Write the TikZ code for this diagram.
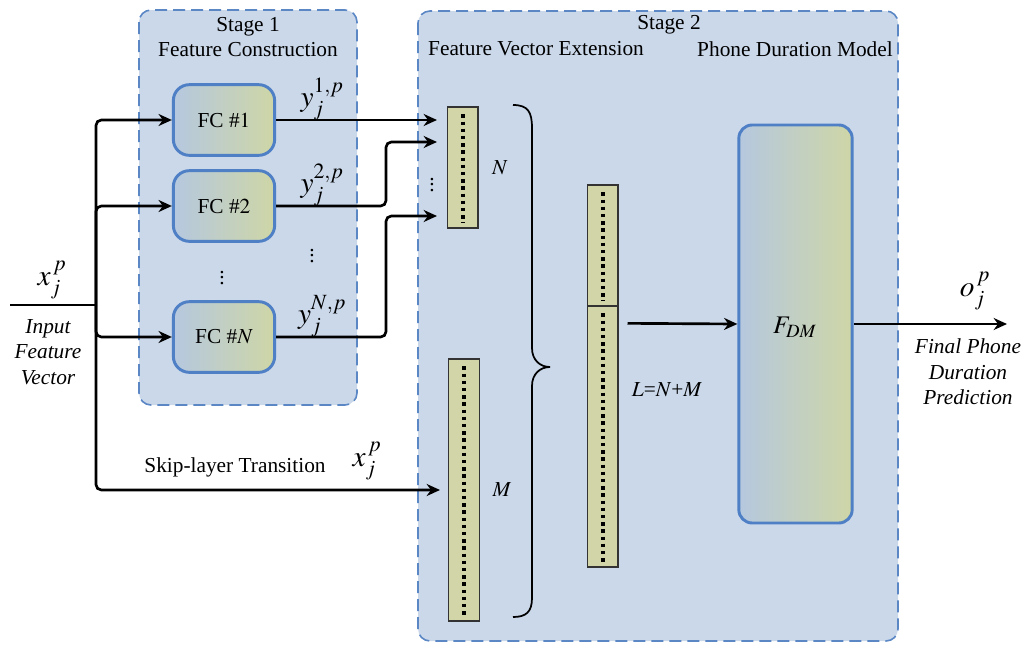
\documentclass[tikz,border=0pt]{standalone}
\usepackage{mathptmx}
\usepackage{fontspec}
\setmainfont{Liberation Serif}
\usetikzlibrary{arrows.meta,positioning,calc}
\definecolor{stagefill}{HTML}{CAD8EA}
\definecolor{stageedge}{HTML}{5B87C5}
\definecolor{fcedge}{HTML}{4F80C6}
\definecolor{fcleft}{HTML}{B5C8DF}
\definecolor{fcright}{HTML}{CED6A6}
\definecolor{vecfill}{HTML}{D2D5A8}
\newcommand{\mathbig}{\fontsize{22}{26}\selectfont}

\begin{document}
\begin{tikzpicture}[x=.75pt,y=-.75pt,font=\fontsize{16}{19}\selectfont,
  stagebox/.style={draw=stageedge,line width=1.2pt,dash pattern=on 9pt off 4.5pt,fill=stagefill,rounded corners=9pt},
  fcbox/.style={draw=fcedge,line width=2.2pt,rounded corners=12pt,left color=fcleft,right color=fcright,minimum width=76pt,minimum height=53pt},
  vecbox/.style={draw=black!80,line width=1pt,fill=vecfill,minimum width=23pt,inner sep=0pt},
  flow/.style={line width=2pt,-{Stealth[length=10pt,width=9pt]},rounded corners=4pt},
  vecdots/.style={line width=3pt,dash pattern=on 2.6pt off 2.8pt},
  ddots/.style={inner sep=0pt}]
\useasboundingbox (0,0) rectangle (1033,653);
% stage frames
\path[stagebox] (139,10) rectangle (357,405);
\path[stagebox] (418,11) rectangle (898,641);
\node (st1) at (248,27) {Stage 1};
\node (st1b) at (248,50) {Feature Construction};
\node (st2) at (669,25) {Stage 2};
\node (st2a) at (536,49) {Feature Vector Extension};
\node (st2b) at (795,49) {Phone Duration Model};
% feature construction blocks
\foreach \i/\yy in {1/120,2/206,N/337}{
\node[fcbox] (fc\i) at (224,\yy) {FC \#$\i$};
\node (y\i) at ($(fc\i.east)+(46,-21)$) {\mathbig$y_j^{\i,p}$};}
\node[ddots] (vd1) at (222,274) {$\vdots$};
\node[ddots] (vd2) at (312,252) {$\vdots$};
% vectors
\node[vecbox,minimum height=90.75pt] (nvec) at (462.5,167.5) {};
\node[vecbox,minimum height=196.5pt] (mvec) at (464,490) {};
\node[vecbox,minimum height=90.75pt] (ltop) at (602.5,245.5) {};
\node[vecbox,minimum height=195.75pt] (lbot) at (602.5,436.5) {};
\foreach \v in {nvec,mvec,ltop,lbot}
\draw[vecdots] ($(\v.north)+(0,8)$) -- ($(\v.south)+(0,-6)$);
\node[ddots] (vd3) at (432,181) {$\vdots$};
\node (nlab) at (500,168) {$N$};
\node (mlab) at (502,490) {$M$};
\node (llab) at (667,390) {$L$=$N$+$M$};
% brace
\draw[line width=1.3pt] (513,105) .. controls (528,105) and (532,112) .. (532,128) -- (532,348)
  .. controls (532,360) and (540,367) .. (550,367) .. controls (540,367) and (532,374) .. (532,386)
  -- (532,598) .. controls (532,612) and (526,617) .. (513,617);
% duration model
\node[fcbox,rounded corners=10pt,minimum width=85pt,minimum height=298.5pt] (fdm) at (795.5,324) {};
\node (fdmlab) at (795,327) {\fontsize{19}{22}\selectfont$F_{DM}$};
% input side
\coordinate (in) at (10,305);
\coordinate (split) at (96,305);
\coordinate (skipend) at (440,490);
\node (xin) at (52,280) {\mathbig$x_j^{\,p}$};
\node[font=\fontsize{16}{19}\selectfont\itshape,align=center] (inlab) at (48,352) {Input\\Feature\\Vector};
\draw[line width=2pt] (in) -- (split);
\foreach \i in {1,2,N}
\draw[flow] (split) |- (fc\i);
\draw[flow] (split) |- (skipend);
\node (skiplab) at (235,467) {Skip-layer Transition};
\node (xskip) at (367,461) {\mathbig$x_j^{\,p}$};
% into the N vector
\coordinate (n1) at (437,120);
\coordinate (n2) at (437,142);
\coordinate (n3) at (437,216);
\draw[flow] (fc1) -- (n1);
\draw[flow] (fc2.east) -- (386,206) |- (n2);
\draw[flow] (fcN.east) -- (386,337) |- (n3);
% concatenated vector to model
\draw[flow] ($(lbot.north east)+(9,18)$) -- (fdm.west |- 0,324);
\coordinate (outend) at (1007,324);
\draw[flow] (fdm.east |- 0,324) -- (outend);
\node (olab) at (975,291) {\mathbig$o_j^{\,p}$};
\node[font=\fontsize{16}{19}\selectfont\itshape,align=center] (outlab) at (968,372) {Final Phone\\Duration\\Prediction};
\end{tikzpicture}
\end{document}
